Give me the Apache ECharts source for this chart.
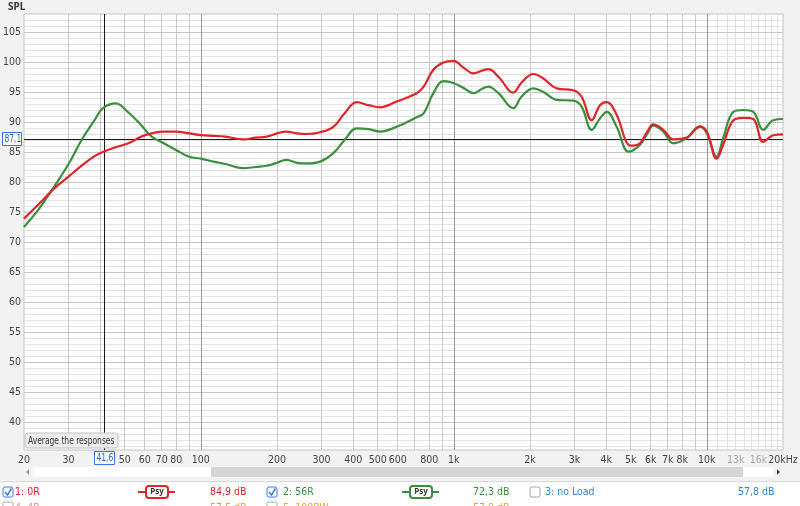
<!DOCTYPE html>
<html><head><meta charset="utf-8">
<script src="https://cdn.jsdelivr.net/npm/echarts@6/dist/echarts.min.js"></script>
<style>html,body{margin:0;padding:0;background:#f2f2f2;}#c{width:800px;height:506px;}</style>
</head><body><div id="c"></div>
<script>
// ---- data (Hz, dB SPL) ----
const freqs = [20,23,26,30,34,38,41,46,52,58,64,71,80,90,100,112,125,147,165,182,200,218,240,262,296,334,370,413,460,511,594,713,760,830,909,995,1100,1194,1290,1368,1500,1718,1850,2061,2250,2549,2966,3200,3506,3782,4021,4401,4894,5118,5442,5800,6140,6729,7372,8318,9388,10000,10930,11600,12730,13940,15260,16700,18300,20000];
const red0R = [73.9,76.4,78.7,80.9,82.8,84.3,85.0,85.8,86.5,87.55,88.1,88.4,88.4,88.1,87.8,87.7,87.55,87.1,87.4,87.55,88.1,88.4,88.1,88.0,88.3,89.2,91.45,93.3,92.8,92.45,93.4,94.8,95.9,98.7,99.9,100.2,98.95,98.1,98.55,98.8,97.55,94.9,96.55,98.0,97.3,95.6,95.3,94.2,90.3,92.8,93.3,91.2,86.2,86.05,86.45,88.3,89.6,88.7,87.1,87.4,89.2,88.4,83.9,86.2,90.3,90.7,90.5,86.7,87.8,87.95];
const green56R = [72.5,75.6,78.9,83.0,87.2,90.3,92.3,93.1,91.5,89.5,87.55,86.5,85.3,84.2,83.9,83.4,83.0,82.3,82.5,82.7,83.2,83.7,83.2,83.1,83.4,84.8,87.0,88.95,88.8,88.4,89.2,90.8,91.45,94.8,96.8,96.5,95.6,94.8,95.5,95.9,94.8,92.3,94.2,95.6,95.05,93.7,93.55,92.55,88.7,90.6,91.7,89.2,85.05,85.3,86.2,87.95,89.4,88.4,86.45,87.3,89.3,88.1,84.2,87.3,91.7,92.0,91.7,88.7,90.3,90.5];

const xLabelFreqs = [20,30,50,60,70,80,100,200,300,400,500,600,800,1000,2000,3000,4000,5000,6000,7000,8000,10000,13000,16000,20000];
const xLabelTexts = ['20','30','50','60','70','80','100','200','300','400','500','600','800','1k','2k','3k','4k','5k','6k','7k','8k','10k','13k','16k','20kHz'];
const xLabelFaint = ['13k','16k'];
const yLabelValues = [40,45,50,55,60,65,70,75,80,85,90,95,100,105];
const decadeFreqs = [100,1000,10000];
const gridFreqs = [30,40,50,60,70,80,90,200,300,400,500,600,700,800,900,2000,3000,4000,5000,6000,7000,8000,9000];
const fineFreqs = [11000,12000,13000,14000,15000,16000,17000,18000,19000];
const yMinorValues = [36,37,38,39,41,42,43,44,46,47,48,49,51,52,53,54,56,57,58,59,61,62,63,64,66,67,68,69,71,72,73,74,76,77,78,79,81,82,83,84,86,87,88,89,91,92,93,94,96,97,98,99,101,102,103,104,106,107];
const cursorFreq = 41.6, cursorLevel = 87.1;
const cursorTexts = ['41,6','87,1'];
const legendNames = ['1: 0R','2: 56R','3: no Load','4: 4R','5: 100RW'];
const legendValues = ['84,9 dB','72,3 dB','57,8 dB','57,5 dB','57,0 dB'];

const FONT = "'DejaVu Sans Condensed','Noto Sans',sans-serif";
const RED = '#e0242b', GREEN = '#3a8f3f', BLUE = '#2f86e0';
const lg = Math.log10;
const X0 = lg(20), X1 = lg(20000), Y0 = 35.33, Y1 = 108;

const chart = echarts.init(document.getElementById('c'), null, {renderer:'canvas'});

const vline = (f, c) => ({coords:[[lg(f), Y0],[lg(f), Y1]], lineStyle:{color:c, width:1, type:'solid', opacity:1}});
const hline = (v, c) => ({coords:[[X0, v],[X1, v]], lineStyle:{color:c, width:1, type:'solid', opacity:1}});
const gridLines = [];
yMinorValues.forEach(v => gridLines.push(hline(v, '#e3e3e3')));
fineFreqs.forEach(f => gridLines.push(vline(f, '#e2e2e2')));
yLabelValues.forEach(v => gridLines.push(hline(v, '#c6c6c6')));
gridFreqs.forEach(f => gridLines.push(vline(f, '#cacaca')));
decadeFreqs.forEach(f => gridLines.push(vline(f, '#999999')));
const cursorLines = [vline(cursorFreq, '#1a1a1a'), hline(cursorLevel, '#1a1a1a')];

function psy(x, color) {
  return [
    {type:'line', shape:{x1:x, y1:492, x2:x+37, y2:492}, style:{stroke:color, lineWidth:2}, z:10},
    {type:'rect', shape:{x:x+8, y:486, width:22, height:12, r:3}, style:{fill:'#fff', stroke:color, lineWidth:2}, z:11},
    {type:'text', x:x+19, y:492, style:{text:'Psy', fill:'#333', font:"bold 8px 'Noto Sans'", align:'center', verticalAlign:'middle'}, z:12}
  ];
}
function checkbox(x, y, checked) {
  const els = [{type:'rect', shape:{x:x, y:y, width:10, height:10, r:2}, style:{fill:'#fff', stroke: checked ? '#3b7dd8' : '#a8a8a8', lineWidth:1}, z:10}];
  if (checked) els.push({type:'polyline', shape:{points:[[x+2,y+5],[x+4.5,y+8],[x+8.5,y+1.5]]}, style:{stroke:'#3b7dd8', lineWidth:1.5, fill:null}, z:11});
  return els;
}
function txt(x, y, s, color) {
  return {type:'text', x:x, y:y, style:{text:s, fill:color, font:"10.5px " + FONT, verticalAlign:'middle'}, z:10};
}

const graphics = [
  {type:'text', x:8, y:7, style:{text:'SPL', fill:'#333', font:"bold 10px 'Noto Sans'", verticalAlign:'middle'}, z:10},
  {type:'rect', shape:{x:33, y:467, width:740, height:10}, style:{fill:'#fff'}, z:5},
  {type:'rect', shape:{x:211, y:467, width:532, height:10}, style:{fill:'#d5d5d5'}, z:6},
  {type:'polygon', shape:{points:[[29,469],[29,475],[26,472]]}, style:{fill:'#9a9a9a'}, z:6},
  {type:'polygon', shape:{points:[[777,469],[777,475],[780,472]]}, style:{fill:'#444'}, z:6},
  {type:'rect', shape:{x:0, y:482, width:800, height:24}, style:{fill:'#fff'}, z:5},
  {type:'line', shape:{x1:0, y1:481.5, x2:800, y2:481.5}, style:{stroke:'#d9d9d9', lineWidth:1}, z:6},
  {type:'rect', shape:{x:25, y:433, width:93, height:15, r:3}, style:{fill:'#ededed', stroke:'#c2c2c2', lineWidth:1}, z:20},
  {type:'text', x:28, y:441, scaleX:0.8, style:{text:'Average the responses', fill:'#333', font:"10.5px " + FONT, verticalAlign:'middle'}, z:21}
];
graphics.push(...checkbox(3, 487, true), txt(15, 492, legendNames[0], RED), ...psy(138, RED), txt(210, 492, legendValues[0], RED));
graphics.push(...checkbox(267, 487, true), txt(283, 492, legendNames[1], GREEN), ...psy(402, GREEN), txt(473, 492, legendValues[1], GREEN));
graphics.push(...checkbox(530, 487, false), txt(545, 492, legendNames[2], BLUE), txt(738, 492, legendValues[2], BLUE));
graphics.push(...checkbox(3, 502, false), txt(15, 508, legendNames[3], '#ee8a8a'), txt(210, 508, legendValues[3], '#e3a046'));
graphics.push(...checkbox(267, 502, false), txt(283, 508, legendNames[4], '#d4aa3a'), txt(473, 508, legendValues[4], '#d4aa3a'));

const option = {
  animation: false,
  backgroundColor: '#f2f2f2',
  grid: {left:24, right:17, top:14, bottom:56, show:true, backgroundColor:'#fff', borderColor:'#c4c4c4', borderWidth:1, outerBoundsMode:'none'},
  xAxis: {
    type:'value', min: X0, max: X1,
    axisLine:{show:false}, axisTick:{show:false}, splitLine:{show:false},
    axisLabel:{
      customValues: xLabelFreqs.map(lg), margin: 5, fontFamily: FONT, fontSize: 10.5, color:'#444', hideOverlap:false,
      formatter: v => {
        let best = 0, d = 1e9;
        xLabelFreqs.forEach((f,i) => { const dd = Math.abs(lg(f)-v); if (dd < d) { d = dd; best = i; } });
        const t = xLabelTexts[best];
        return xLabelFaint.includes(t) ? '{g|' + t + '}' : t;
      },
      rich: { g: {color:'#a8a8a8', fontFamily: FONT, fontSize: 10.5} }
    }
  },
  yAxis: {
    type:'value', min: Y0, max: Y1,
    axisLine:{show:false}, axisTick:{show:false}, splitLine:{show:false},
    axisLabel:{customValues: yLabelValues, margin: 3, fontFamily: FONT, fontSize: 10.5, color:'#444'}
  },
  graphic: graphics,
  series: [
    {type:'lines', name:'grid', coordinateSystem:'cartesian2d', z:1, silent:true, data: gridLines},
    {type:'lines', name:'cursor', coordinateSystem:'cartesian2d', z:2, silent:true, data: cursorLines},
    {type:'line', name:'2: 56R', data: freqs.map((f,i)=>[lg(f), green56R[i]]), smooth:0.4, showSymbol:false, z:3,
     lineStyle:{color:GREEN, width:2.2, type:'solid'}, itemStyle:{color:GREEN}},
    {type:'line', name:'1: 0R', data: freqs.map((f,i)=>[lg(f), red0R[i]]), smooth:0.4, showSymbol:false, z:4,
     lineStyle:{color:RED, width:2.2, type:'solid'}, itemStyle:{color:RED}}
  ]
};
chart.setOption(option);

// cursor readout boxes, positioned via the chart's own scales
const px = chart.convertToPixel({gridIndex:0}, [lg(cursorFreq), cursorLevel]);
const box = {fill:'#fff', stroke:'#3d6ff0', lineWidth:1};
const cx = Math.round(px[0]), cy = Math.round(px[1]);
chart.setOption({graphic: graphics.concat([
  {type:'rect', shape:{x:cx-9.5, y:451.5, width:20, height:13}, style:box, z:30},
  {type:'text', x:cx-7.5, y:458.5, scaleX:0.8, style:{text:cursorTexts[0], fill:'#2a5bd7', font:"10.5px " + FONT, verticalAlign:'middle'}, z:31},
  {type:'rect', shape:{x:2.5, y:cy-6.5, width:19, height:13}, style:box, z:30},
  {type:'text', x:4.5, y:cy+0.5, scaleX:0.8, style:{text:cursorTexts[1], fill:'#2a5bd7', font:"10.5px " + FONT, verticalAlign:'middle'}, z:31}
])});
</script>
</body></html>
